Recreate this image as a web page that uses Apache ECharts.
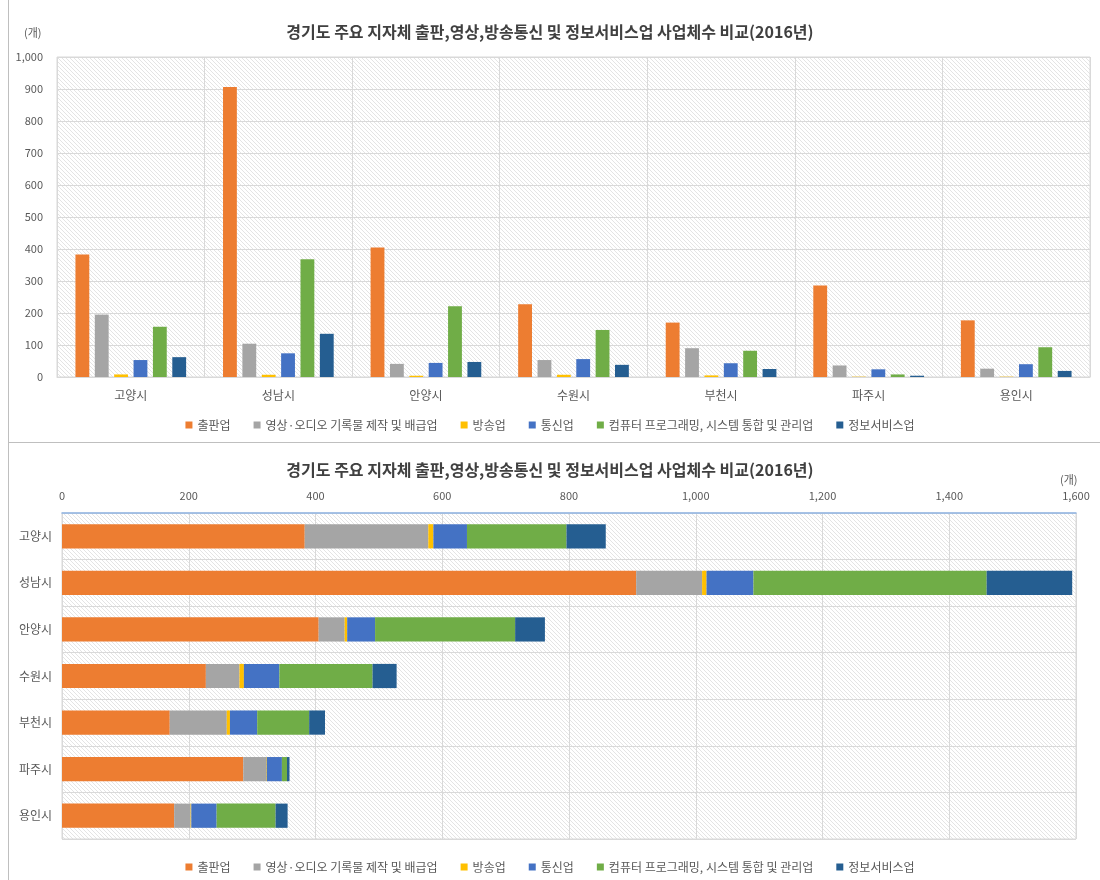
<!DOCTYPE html>
<html>
<head>
<meta charset="utf-8">
<script src="https://cdn.jsdelivr.net/npm/echarts@6/dist/echarts.min.js"></script>
<style>
  body { margin: 0; background: #fff; }
  #wrap { position: relative; width: 1100px; height: 880px; }
  #topChart { position: absolute; left: 0; top: 0; width: 1100px; height: 442px; }
  #bottomChart { position: absolute; left: 0; top: 442px; width: 1100px; height: 438px; }
  .vline { position: absolute; left: 8px; top: 0; width: 1px; height: 880px; background: #bfbfbf; }
  .hline { position: absolute; left: 8px; top: 442px; width: 1092px; height: 1px; background: #bfbfbf; }
</style>
</head>
<body>
<div id="wrap">
  <div id="topChart"></div>
  <div id="bottomChart"></div>
  <div class="vline"></div>
  <div class="hline"></div>
</div>
<script>
const titleText = '경기도 주요 지자체 출판,영상,방송통신 및 정보서비스업 사업체수 비교(2016년)'
const cities = ['고양시', '성남시', '안양시', '수원시', '부천시', '파주시', '용인시']
const seriesNames = ['출판업', '영상·오디오 기록물 제작 및 배급업', '방송업', '통신업', '컴퓨터 프로그래밍, 시스템 통합 및 관리업', '정보서비스업']
const publishing = [383, 906, 405, 227, 170, 286, 177]
const video = [195, 104, 41, 53, 90, 36, 26]
const broadcast = [8, 7, 4, 7, 5, 1, 1]
const telecom = [53, 74, 44, 56, 43, 24, 40]
const computer = [157, 368, 221, 147, 82, 8, 93]
const infoService = [62, 135, 47, 38, 25, 4, 19]
const colors = ['#ED7D31', '#A5A5A5', '#FFC000', '#4472C4', '#70AD47', '#255E91']

const allData = [publishing, video, broadcast, telecom, computer, infoService]
const FONT = '"Noto Sans CJK KR", "Noto Sans", sans-serif'

// 사선 무늬 배경
function makeHatch() {
  const c = document.createElement('canvas')
  c.width = 4
  c.height = 4
  const ctx = c.getContext('2d')
  ctx.fillStyle = '#ffffff'
  ctx.fillRect(0, 0, 4, 4)
  ctx.strokeStyle = '#e4e4e4'
  ctx.lineWidth = 1
  ctx.beginPath()
  ctx.moveTo(-1, -1); ctx.lineTo(5, 5)
  ctx.moveTo(-1, 3); ctx.lineTo(1, 5)
  ctx.moveTo(3, -1); ctx.lineTo(5, 1)
  ctx.stroke()
  return { image: c, repeat: 'repeat' }
}
const hatch = makeHatch()

const commaFmt = v => v.toLocaleString('en-US')

const legendOpt = (top) => ({
  top: top,
  left: 'center',
  itemWidth: 7,
  itemHeight: 7,
  itemGap: 23,
  icon: 'rect',
  textStyle: { color: '#595959', fontSize: 12, fontFamily: FONT },
  data: seriesNames
})

const titleOpt = (top) => ({
  text: titleText,
  left: 'center',
  top: top,
  textStyle: { fontSize: 16, fontWeight: 'bold', color: '#404040', fontFamily: FONT }
})

// 위 차트: 묶은 세로 막대
const topChart = echarts.init(document.getElementById('topChart'))
topChart.setOption({
  animation: false,
  title: titleOpt(19),
  legend: legendOpt(414),
  graphic: [{
    type: 'text', left: 24, top: 27,
    style: { text: '(개)', fill: '#595959', fontSize: 11, fontFamily: FONT }
  }],
  grid: {
    left: 57, right: 10, top: 57, bottom: 65,
    show: true,
    backgroundColor: hatch,
    borderColor: '#d9d9d9',
    borderWidth: 1
  },
  xAxis: {
    type: 'category',
    data: cities,
    axisLine: { lineStyle: { color: '#d9d9d9' } },
    axisTick: { show: false },
    axisLabel: { color: '#595959', fontSize: 12, fontFamily: FONT, margin: 12 },
    splitLine: { show: true, interval: 0, lineStyle: { color: '#d9d9d9' } }
  },
  yAxis: {
    type: 'value',
    min: 0, max: 1000, interval: 100,
    axisLine: { show: false },
    axisTick: { show: false },
    axisLabel: { color: '#595959', fontSize: 11, fontFamily: FONT, formatter: commaFmt, margin: 14 },
    splitLine: { lineStyle: { color: '#d9d9d9' } }
  },
  series: seriesNames.map((name, i) => ({
    name: name,
    type: 'bar',
    data: allData[i],
    barGap: '40%',
    barCategoryGap: '25%',
    itemStyle: { color: colors[i] }
  }))
})

// 아래 차트: 누적 가로 막대
const bottomChart = echarts.init(document.getElementById('bottomChart'))
bottomChart.setOption({
  animation: false,
  title: titleOpt(15),
  legend: legendOpt(414),
  graphic: [{
    type: 'text', left: 1060, top: 32,
    style: { text: '(개)', fill: '#595959', fontSize: 11, fontFamily: FONT }
  }],
  grid: {
    left: 62, right: 24, top: 71, bottom: 41,
    show: true,
    backgroundColor: hatch,
    borderColor: '#d9d9d9',
    borderWidth: 1
  },
  xAxis: {
    type: 'value',
    position: 'top',
    min: 0, max: 1600, interval: 200,
    axisLine: { show: true, lineStyle: { color: '#8fb4e3', width: 1.5 } },
    axisTick: { show: false },
    axisLabel: { color: '#595959', fontSize: 11, fontFamily: FONT, formatter: commaFmt, margin: 12 },
    splitLine: { lineStyle: { color: '#d9d9d9' } }
  },
  yAxis: {
    type: 'category',
    data: cities,
    inverse: true,
    axisLine: { lineStyle: { color: '#d9d9d9' } },
    axisTick: { show: false },
    axisLabel: { color: '#595959', fontSize: 12, fontFamily: FONT, margin: 10 },
    splitLine: { show: true, interval: 0, lineStyle: { color: '#d9d9d9' } }
  },
  series: seriesNames.map((name, i) => ({
    name: name,
    type: 'bar',
    stack: 'total',
    data: allData[i],
    barWidth: '52%',
    itemStyle: { color: colors[i] }
  }))
})
</script>
</body>
</html>
